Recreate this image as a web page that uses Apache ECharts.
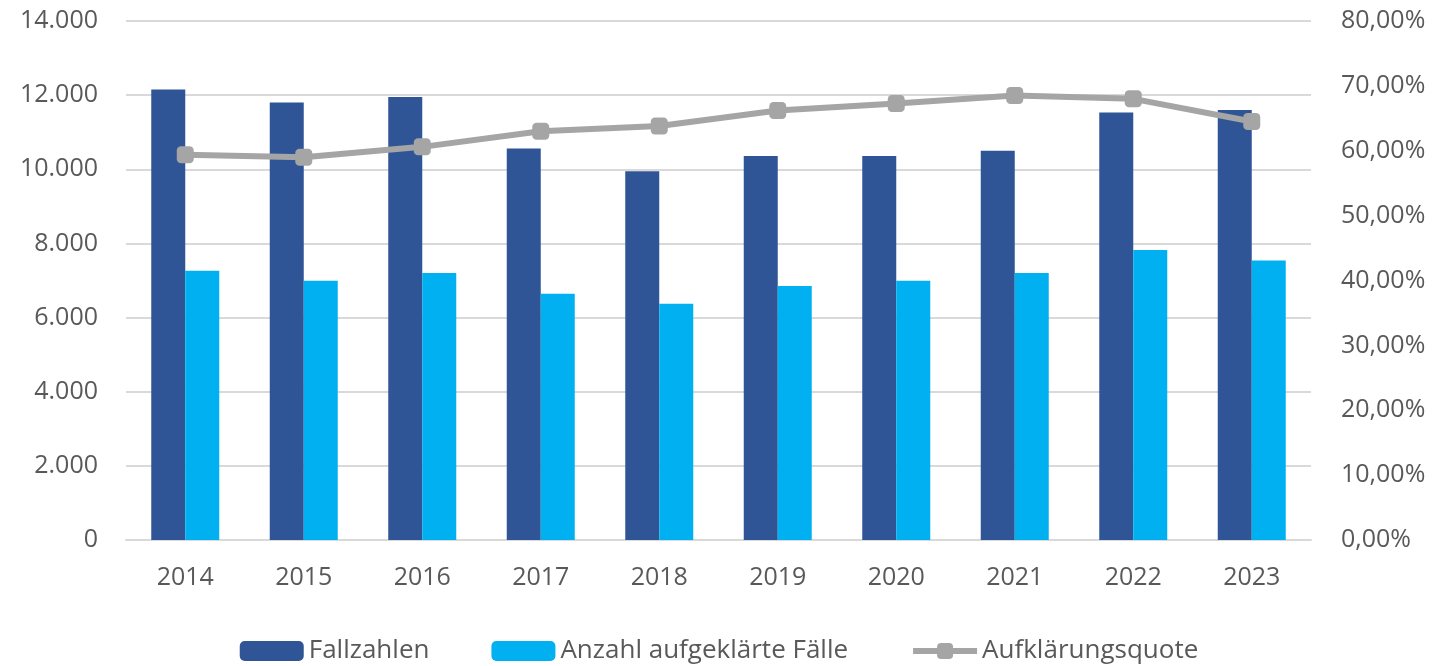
<!DOCTYPE html>
<html>
<head>
<meta charset="utf-8">
<script src="https://cdn.jsdelivr.net/npm/echarts@6/dist/echarts.min.js"></script>
<style>
  html, body { margin: 0; padding: 0; background: #fff; }
  #chart { width: 1438px; height: 666px; }
</style>
</head>
<body>
<div id="chart"></div>
<script>
// Jahre
const years = ['2014', '2015', '2016', '2017', '2018', '2019', '2020', '2021', '2022', '2023']
// Fallzahlen
const fallzahlen = [12150, 11800, 11950, 10560, 9950, 10360, 10360, 10500, 11530, 11600]
// Anzahl aufgeklärte Fälle
const aufgeklaert = [7260, 6990, 7200, 6640, 6370, 6850, 6990, 7200, 7820, 7540]
// Aufklärungsquote in Prozent
const quote = [59.4, 59.0, 60.6, 63.0, 63.8, 66.2, 67.3, 68.5, 68.0, 64.5]

const font = 'Open Sans, Liberation Sans, sans-serif'
const textColor = '#595959'

const chart = echarts.init(document.getElementById('chart'))

const fmtThousand = (v) => String(v).replace(/\B(?=(\d{3})+(?!\d))/g, '.')
const fmtPercent = (v) => v.toFixed(2).replace('.', ',') + '%'

chart.setOption({
  animation: false,
  textStyle: { fontFamily: font },
  grid: { left: 126, right: 127, top: 21, height: 519 },
  legend: {
    top: 633,
    left: 'center',
    itemWidth: 64,
    itemHeight: 20,
    itemGap: 62,
    textStyle: { fontSize: 26, color: textColor, fontFamily: font },
    data: [
      'Fallzahlen',
      'Anzahl aufgeklärte Fälle',
      { name: 'Aufklärungsquote', lineStyle: { width: 6 } },
    ],
  },
  xAxis: {
    type: 'category',
    data: years,
    axisLine: { lineStyle: { color: '#D9D9D9', width: 2 } },
    axisTick: { show: false },
    axisLabel: { fontSize: 25, color: textColor, margin: 25 },
  },
  yAxis: [
    {
      type: 'value',
      min: 0,
      max: 14000,
      interval: 2000,
      axisLabel: { fontSize: 25, color: textColor, margin: 28, formatter: fmtThousand },
      splitLine: { lineStyle: { color: '#D9D9D9', width: 2 } },
      axisLine: { show: false },
      axisTick: { show: false },
    },
    {
      type: 'value',
      min: 0,
      max: 80,
      interval: 10,
      axisLabel: { fontSize: 25, color: textColor, margin: 30, formatter: fmtPercent },
      splitLine: { show: false },
      axisLine: { show: false },
      axisTick: { show: false },
    },
  ],
  series: [
    {
      name: 'Fallzahlen',
      type: 'bar',
      data: fallzahlen,
      barWidth: 34,
      barGap: '0%',
      itemStyle: { color: '#2F5597' },
    },
    {
      name: 'Anzahl aufgeklärte Fälle',
      type: 'bar',
      data: aufgeklaert,
      barWidth: 34,
      barGap: '0%',
      itemStyle: { color: '#00B0F0' },
    },
    {
      name: 'Aufklärungsquote',
      type: 'line',
      yAxisIndex: 1,
      data: quote,
      symbol: 'roundRect',
      symbolSize: 17,
      lineStyle: { color: '#A5A5A5', width: 6 },
      itemStyle: { color: '#A5A5A5' },
    },
  ],
})
</script>
</body>
</html>
